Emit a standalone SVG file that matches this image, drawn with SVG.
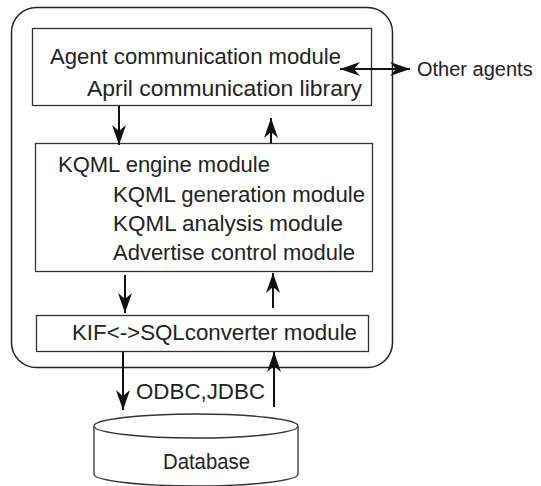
<svg xmlns="http://www.w3.org/2000/svg" width="541" height="486" viewBox="0 0 541 486">
<style>
.box{fill:#fff;stroke:#333;stroke-width:1.3}
.outer{fill:none;stroke:#222;stroke-width:1.5}
.t{font-family:"Liberation Sans",Arial,sans-serif;font-size:22px;fill:#222}
.c{stroke:#111;stroke-width:2;fill:none}
</style>
<defs>
<marker id="ah" markerUnits="userSpaceOnUse" viewBox="-22 -9 24 18" refX="0" refY="0" markerWidth="24" markerHeight="18" orient="auto-start-reverse">
<path d="M0,0 L-20,-7 L-14,0 L-20,7 Z" fill="#111"/>
</marker>
</defs>
<rect x="0" y="0" width="541" height="486" fill="#fff"/>
<g id="outer"><rect class="outer" x="11.5" y="7.5" width="381" height="360" rx="25" ry="25"/></g>
<g id="agent-comm">
<rect class="box" x="32.5" y="28.5" width="339" height="77"/>
<text class="t" x="50" y="64" textLength="291" lengthAdjust="spacingAndGlyphs">Agent communication module</text>
<text class="t" x="87" y="96" textLength="275" lengthAdjust="spacingAndGlyphs">April communication library</text>
</g>
<g id="kqml">
<rect class="box" x="35.5" y="143.5" width="337" height="128"/>
<text class="t" x="58" y="172">KQML engine module</text>
<text class="t" x="113" y="202" textLength="252" lengthAdjust="spacingAndGlyphs">KQML generation module</text>
<text class="t" x="113" y="231" textLength="230" lengthAdjust="spacingAndGlyphs">KQML analysis module</text>
<text class="t" x="113" y="260" textLength="242" lengthAdjust="spacingAndGlyphs">Advertise control module</text>
</g>
<g id="kif">
<rect class="box" x="36.5" y="315.5" width="332" height="36"/>
<text class="t" x="72" y="340" textLength="285" lengthAdjust="spacingAndGlyphs">KIF&lt;-&gt;SQLconverter module</text>
</g>
<g id="database">
<path class="box" d="M94,426 L94,474 A102,12 0 0 0 298,474 L298,426"/>
<ellipse class="box" cx="196" cy="426" rx="102" ry="12"/>
<text class="t" x="163" y="469" textLength="87" lengthAdjust="spacingAndGlyphs">Database</text>
</g>
<g id="other"><text class="t" x="417" y="76" style="font-size:20px">Other agents</text></g>
<g id="connectors">
<line class="c" x1="119" y1="106" x2="119" y2="145" marker-end="url(#ah)"/>
<line class="c" x1="271" y1="143" x2="271" y2="118" marker-end="url(#ah)"/>
<line class="c" x1="125" y1="275" x2="125" y2="313" marker-end="url(#ah)"/>
<line class="c" x1="273" y1="308" x2="273" y2="273" marker-end="url(#ah)"/>
<line class="c" x1="123" y1="352" x2="123" y2="410" marker-end="url(#ah)"/>
<line class="c" x1="274" y1="407" x2="274" y2="352" marker-end="url(#ah)"/>
<line class="c" x1="340" y1="69" x2="410" y2="69" marker-start="url(#ah)" marker-end="url(#ah)"/>
<text class="t" x="136" y="399" textLength="129" lengthAdjust="spacingAndGlyphs">ODBC,JDBC</text>
</g>
</svg>
